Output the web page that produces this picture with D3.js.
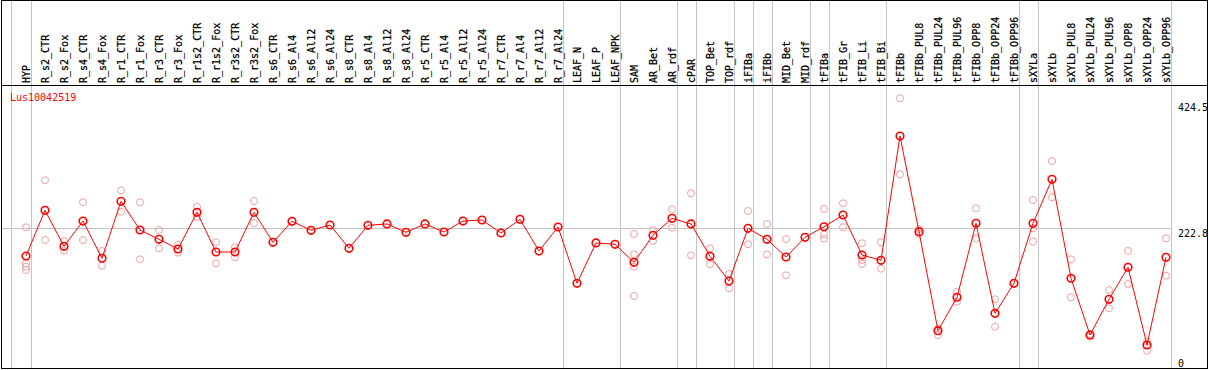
<!DOCTYPE html>
<html>
<head>
<meta charset="utf-8">
<script src="https://cdn.jsdelivr.net/npm/d3@7"></script>
<style>
  body { margin: 0; background: #fff; }
  text { font-family: "DejaVu Sans Mono", monospace; font-size: 10px; }
</style>
</head>
<body>
<div id="chart"></div>
<script>
// gene shown in the plot
var geneId = "Lus10042519";

// sample names, left to right
var categories = ["HYP", "R_s2_CTR", "R_s2_Fox", "R_s4_CTR", "R_s4_Fox", "R_r1_CTR", "R_r1_Fox",
  "R_r3_CTR", "R_r3_Fox", "R_r1s2_CTR", "R_r1s2_Fox", "R_r3s2_CTR", "R_r3s2_Fox", "R_s6_CTR",
  "R_s6_Al4", "R_s6_Al12", "R_s6_Al24", "R_s8_CTR", "R_s8_Al4", "R_s8_Al12", "R_s8_Al24",
  "R_r5_CTR", "R_r5_Al4", "R_r5_Al12", "R_r5_Al24", "R_r7_CTR", "R_r7_Al4", "R_r7_Al12", "R_r7_Al24",
  "LEAF_N", "LEAF_P", "LEAF_NPK", "SAM", "AR_Bet", "AR_rdf", "cPAR", "TOP_Bet", "TOP_rdf",
  "iFIBa", "iFIBb", "MID_Bet", "MID_rdf", "tFIBa", "tFIB_Gr", "tFIB_Li", "tFIB_Bi", "tFIBb",
  "tFIBb_PUL8", "tFIBb_PUL24", "tFIBb_PUL96", "tFIBb_OPP8", "tFIBb_OPP24", "tFIBb_OPP96",
  "sXYLa", "sXYLb", "sXYLb_PUL8", "sXYLb_PUL24", "sXYLb_PUL96", "sXYLb_OPP8", "sXYLb_OPP24", "sXYLb_OPP96"];

// mean expression per sample
var meanValues = [178.6, 251.5, 194.1, 234.4, 174.9, 265.8, 220.1, 205.2, 189.8, 248.3, 185.0,
  185.0, 248.3, 200.5, 234.0, 219.6, 228.1, 190.9, 227.6, 229.7, 216.4, 229.7, 216.9, 234.4,
  236.0, 215.3, 237.1, 186.6, 224.9, 135.1, 199.4, 197.3, 168.6, 211.6, 238.7, 229.7, 178.1,
  138.7, 222.8, 205.2, 177.0, 208.4, 225.3, 244.0, 180.2, 171.8, 370.0, 217.4, 59.5, 112.8,
  230.8, 87.2, 135.1, 230.8, 300.9, 143.1, 52.6, 109.6, 160.6, 36.7, 176.5];

// individual replicates per sample
var replicateValues = [
  [224.4, 167.0, 161.6, 156.3], [299.3, 204.1], [202.5, 187.1], [264.3, 204.1], [186.6, 163.1],
  [283.4, 249.3], [264.3, 173.4], [220.1, 190.9], [196.2, 183.9], [257.2, 241.3], [200.5, 167.0],
  [192.5, 176.5], [266.3, 230.8],
  [], [], [], [], [], [], [], [], [], [], [], [], [], [], [], [], [], [], [],
  [213.7, 181.3, 161.6, 114.8], [220.1, 202.5], [253.1, 223.7], [278.6, 179.7], [190.9, 165.4],
  [149.9, 127.1], [250.4, 197.3], [229.7, 181.3], [205.7, 147.8], [],
  [253.6, 212.9, 206.5], [262.7, 224.4], [198.9, 172.2, 165.9], [200.5, 158.4],
  [430.1, 308.9], [221.7, 213.7], [63.3, 52.6], [121.7, 105.7], [254.7, 206.8], [109.6, 65.9], [],
  [267.9, 222.8, 201.4], [330.1, 272.2], [173.4, 112.8], [54.2, 49.9], [124.4, 95.2],
  [186.6, 134.0], [41.9, 27.6], [206.8, 147.2]];

// number of samples in each tissue group (separators drawn between groups)
var groupSizes = [1, 28, 3, 3, 1, 2, 1, 1, 2, 1, 3, 7, 1, 7];

var yTickValues = [0, 222.8, 424.5];
var yMax = 445.6;

var W = 1209, H = 370;

var svg = d3.select("#chart").append("svg")
  .attr("width", W)
  .attr("height", H);

var x = d3.scalePoint().domain(categories).range([26, 1166]);
var y = d3.scaleLinear().domain([0, yMax]).range([368, 88.6]);

var plotRight = x(categories[categories.length - 1]) + 4.5;

// horizontal mid grid line
svg.append("line")
  .attr("x1", 1).attr("x2", plotRight)
  .attr("y1", Math.round(y(222.8)) + 0.5).attr("y2", Math.round(y(222.8)) + 0.5)
  .attr("stroke", "#c4c4c4");

// group separators
var sepIdx = [];
var acc = 0;
groupSizes.forEach(function(n) { acc += n; sepIdx.push(acc - 1); });
var sepX = [x(categories[0]) - 15.5].concat(sepIdx.map(function(i) { return x(categories[i]) + 4.5; }));
svg.selectAll(".sep").data(sepX).enter().append("line")
  .attr("class", "sep")
  .attr("x1", function(d) { return Math.round(d) + 0.5; })
  .attr("x2", function(d) { return Math.round(d) + 0.5; })
  .attr("y1", 0).attr("y2", 369)
  .attr("stroke", "#c4c4c4");

// frame
svg.append("rect")
  .attr("x", 1.5).attr("y", 0.5)
  .attr("width", 1206).attr("height", 368)
  .attr("fill", "none").attr("stroke", "#000");
svg.append("line")
  .attr("x1", 1).attr("x2", 1208)
  .attr("y1", 85.5).attr("y2", 85.5)
  .attr("stroke", "#000");

// sample labels
svg.selectAll(".lab").data(categories).enter().append("text")
  .attr("class", "lab")
  .attr("transform", function(d) { return "translate(" + (x(d) + 4) + ",83) rotate(-90)"; })
  .attr("text-anchor", "start")
  .attr("fill", "#000")
  .attr("stroke", "#000")
  .attr("stroke-width", 0.25)
  .text(function(d) { return d; });

// gene id
svg.append("text")
  .attr("x", 10).attr("y", 101)
  .attr("fill", "#f00")
  .text(geneId);

// right axis
var yAxis = svg.append("g")
  .attr("transform", "translate(" + (plotRight - 0.5) + ",0)")
  .call(d3.axisRight(y).tickValues(yTickValues).tickSize(0).tickPadding(8)
    .tickFormat(function(d) { return d; }));
yAxis.select(".domain").remove();
yAxis.selectAll("text")
  .attr("fill", "#000")
  .attr("font-family", "DejaVu Sans Mono")
  .attr("font-size", 10)
  .attr("dy", function(d) { return d === 0 ? "-0.2em" : "0.85em"; });

// replicates
var reps = [];
replicateValues.forEach(function(arr, i) {
  arr.forEach(function(v) { reps.push({c: categories[i], v: v}); });
});
svg.selectAll(".rep").data(reps).enter().append("circle")
  .attr("class", "rep")
  .attr("cx", function(d) { return x(d.c); })
  .attr("cy", function(d) { return y(d.v); })
  .attr("r", 3.5)
  .attr("fill", "none")
  .attr("stroke", "#f0a0a0")
  .attr("stroke-width", 1);

// mean line
var means = categories.map(function(c, i) { return {c: c, v: meanValues[i]}; });
svg.append("path")
  .datum(means)
  .attr("d", d3.line().x(function(d) { return x(d.c); }).y(function(d) { return y(d.v); }))
  .attr("fill", "none")
  .attr("stroke", "#f00")
  .attr("stroke-width", 1);

svg.selectAll(".mean").data(means).enter().append("circle")
  .attr("class", "mean")
  .attr("cx", function(d) { return x(d.c); })
  .attr("cy", function(d) { return y(d.v); })
  .attr("r", 3.8)
  .attr("fill", "none")
  .attr("stroke", "#f00")
  .attr("stroke-width", 1.6);
</script>
</body>
</html>
